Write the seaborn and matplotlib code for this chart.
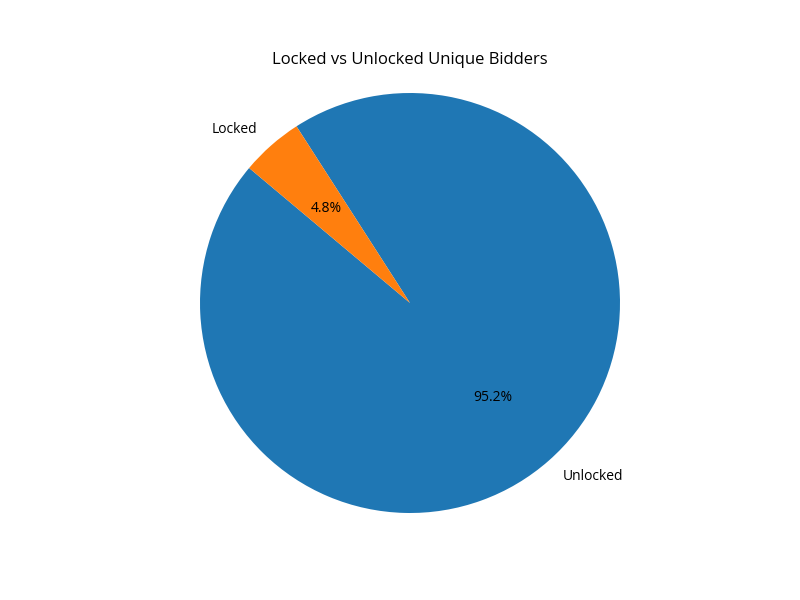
import matplotlib
matplotlib.use("Agg")
import matplotlib.pyplot as plt
import seaborn as sns

# Data
labels = ["Unlocked", "Locked"]
shares = [95.2, 4.8]

sns.set_style("white")
plt.rcParams['font.family'] = ['Open Sans', 'DejaVu Sans']
plt.rcParams['text.color'] = 'black'

palette = sns.color_palette("tab10", 2)

fig = plt.figure(figsize=(8, 6), dpi=100)
plt.pie(shares, labels=labels, colors=palette, autopct='%1.1f%%', startangle=140,
        wedgeprops={'linewidth': 0})
plt.title('Locked vs Unlocked Unique Bidders', color='black')
plt.axis('equal')

plt.savefig('out.png')
plt.close()
